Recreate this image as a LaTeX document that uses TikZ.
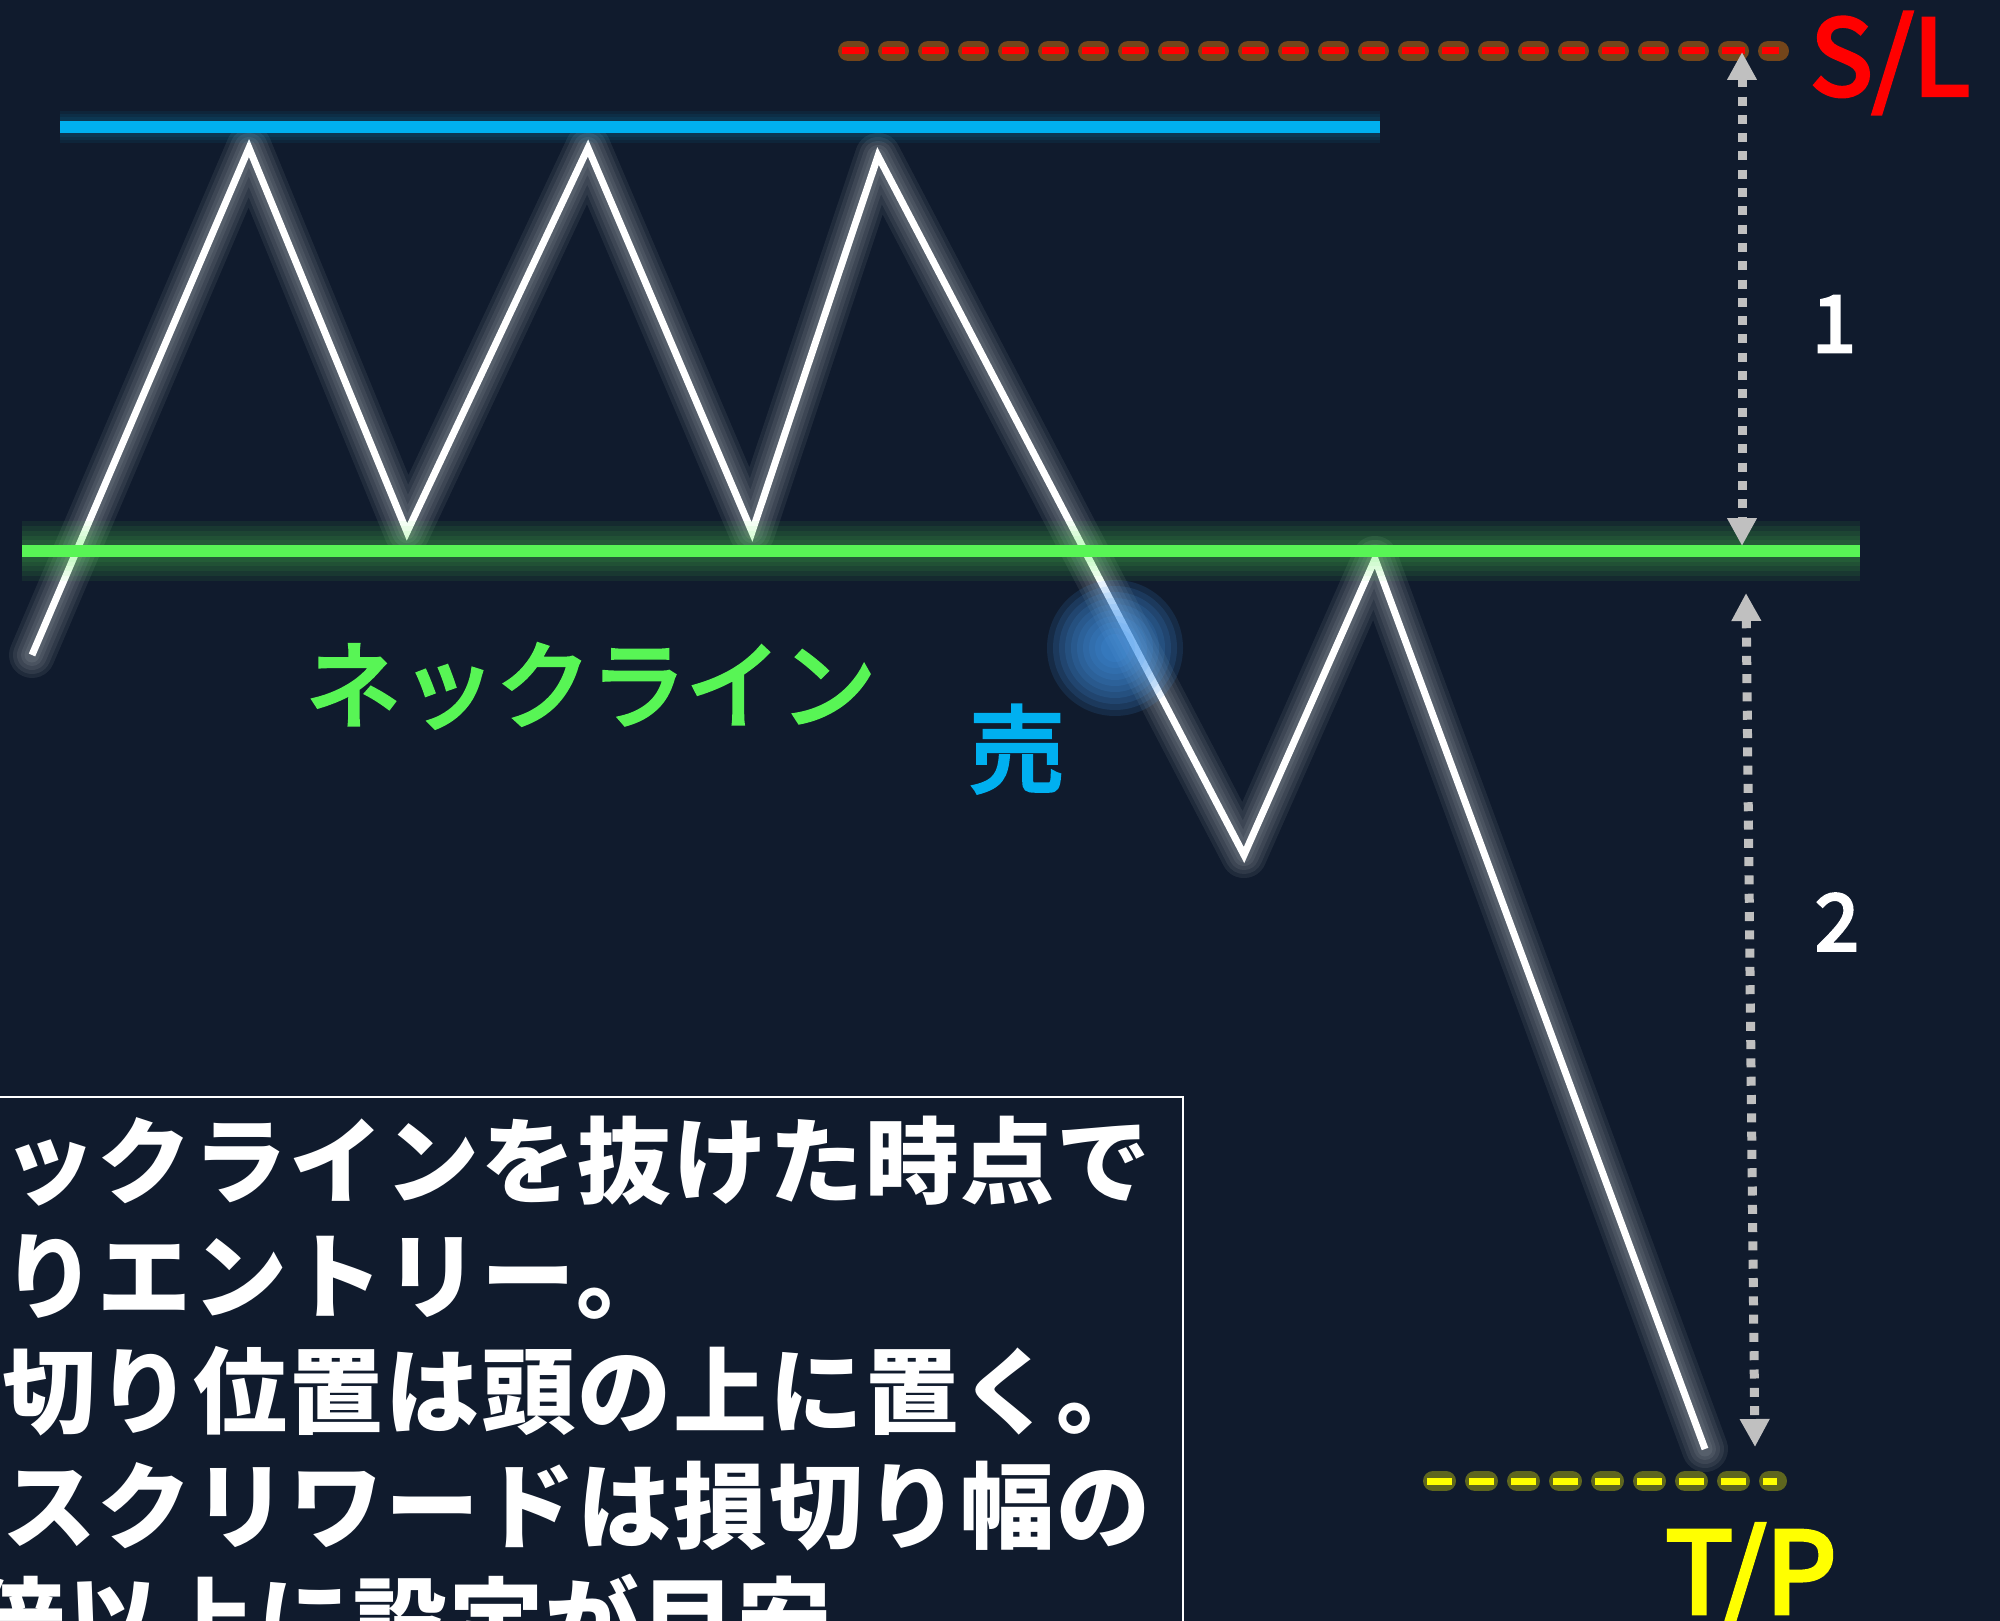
\documentclass[tikz,border=0pt]{standalone}
\usepackage{fontspec}
\newfontfamily\jpfont{Noto Sans CJK JP}
\newfontfamily\jpmed{Noto Sans CJK JP}[FakeBold=4]
\newfontfamily\jpnote{Noto Sans CJK JP}[LetterSpace=2]
\usetikzlibrary{arrows.meta,positioning}
\definecolor{bgnavy}{RGB}{16,27,45}
\definecolor{lineblue}{RGB}{0,176,240}
\definecolor{neckgreen}{RGB}{88,245,85}
\definecolor{dotgrey}{RGB}{192,192,192}
\definecolor{blobblue}{RGB}{70,155,240}
\definecolor{slred}{RGB}{255,0,0}
\definecolor{tpyellow}{RGB}{255,255,0}
\tikzset{
 glow/.style={line width=#1,opacity=0.07,line join=round,line cap=round},
 price/.style={draw=white,line width=7pt,line join=miter,miter limit=20},
 rangearrow/.style={dotgrey,line width=9pt,dash pattern=on 9pt off 9.3pt,
               {Triangle[length=28pt,width=28pt]}-{Triangle[length=28pt,width=28pt]}},
 boxtext/.style={text=white,font=\jpnote\bfseries\fontsize{94}{113}\selectfont,
                 anchor=base west,inner sep=0pt},
 levellabel/.style={font=\jpmed\fontsize{108}{120}\selectfont,inner sep=0pt,anchor=base},
 ratio/.style={text=white,font=\jpmed\fontsize{78}{90}\selectfont,inner sep=0pt},
}

\begin{document}
\begin{tikzpicture}[x=1pt,y=-1pt]
\path[clip] (0,0) rectangle (2000,1621);
\fill[bgnavy] (0,0) rectangle (2000,1621);

% levels
\coordinate (top0) at (60,127);    \coordinate (top1) at (1380,127);
\coordinate (neck0) at (22,551);   \coordinate (neck1) at (1860,551);
\coordinate (sl0) at (842,51);     \coordinate (sl1) at (1779,51);
\coordinate (tp0) at (1427,1481);  \coordinate (tp1) at (1777,1481);

% price
\coordinate (z0) at (32,655);
\coordinate (z1) at (249,148);
\coordinate (z2) at (407,532);
\coordinate (z3) at (588,148);
\coordinate (z4) at (752,532);
\coordinate (z5) at (878,156);
\coordinate (z6) at (1244,855);
\coordinate (z7) at (1375,559);
\coordinate (z8) at (1705,1449);
\coordinate (blob) at (1115,648);

\foreach \w in {46,38,30,22,15}
  \draw[white,glow=\w] (z0) -- (z1) -- (z2) -- (z3) -- (z4) -- (z5) -- (z6) -- (z7) -- (z8);
\draw[price] (z0) -- (z1) -- (z2) -- (z3) -- (z4) -- (z5) -- (z6) -- (z7) -- (z8);

% entry
\foreach \r in {68,62,...,14}
  \fill[blobblue,opacity=0.13] (blob) circle (\r);

% top line
\foreach \w in {32,26,20}
  \draw[lineblue,glow=\w,line cap=butt] (top0) -- (top1);
\draw[lineblue,line width=12pt] (top0) -- (top1);

% neckline
\foreach \w in {60,50,40,30,22}
  \draw[neckgreen,glow=\w,line cap=butt] (neck0) -- (neck1);
\draw[neckgreen,line width=12pt] (neck0) -- (neck1);

% stop loss / take profit
\draw[orange,line width=20pt,opacity=0.42,line cap=round,dash pattern=on 11pt off 29pt,dash phase=34pt] (sl0) -- (sl1);
\draw[slred,line width=7pt,dash pattern=on 23pt off 17pt] (sl0) -- (sl1);
\draw[tpyellow,line width=20pt,opacity=0.33,line cap=round,dash pattern=on 13pt off 29pt,dash phase=36pt] (tp0) -- (tp1);
\draw[tpyellow,line width=7pt,dash pattern=on 25pt off 17pt] (tp0) -- (tp1);

% ranges
\coordinate (a1t) at (1742,52);   \coordinate (a1b) at (1742,546);
\coordinate (a2t) at (1746,593);  \coordinate (a2b) at (1755,1447);
\draw[rangearrow] (a1t) -- (a1b);
\draw[rangearrow] (a2t) -- (a2b);

\node[levellabel,text=slred,font=\jpmed\fontsize{104}{120}\selectfont] (sl) at (1890,95) {S/L};
\node[levellabel,text=tpyellow,font=\jpmed\fontsize{112}{120}\selectfont] (tp) at (1751,1613) {T/P};
\node[ratio] (r1) at (1834,324) {1};
\node[ratio] (r2) at (1837,922) {2};

\node[text=neckgreen,font=\jpmed\fontsize{95}{100}\selectfont,inner sep=0pt] (neck) at (591,686) {ネックライン};
\node[text=lineblue,font=\jpmed\fontsize{95}{100}\selectfont,inner sep=0pt] (sell) at (1017,749) {売};

% note
\draw[white,line width=2pt] (-10,1097) rectangle (1183,1640);
\node[boxtext] (l1) at (2,1196) {ックラインを抜けた時点で};
\node[boxtext] (l2) at (2,1311) {りエントリー。};
\node[boxtext] (l3) at (2,1426) {切り位置は頭の上に置く。};
\node[boxtext] (l4) at (2,1541) {スクリワードは損切り幅の};
\node[boxtext] (l5) at (-30,1656) {倍以上に設定が目安};
\end{tikzpicture}
\end{document}
